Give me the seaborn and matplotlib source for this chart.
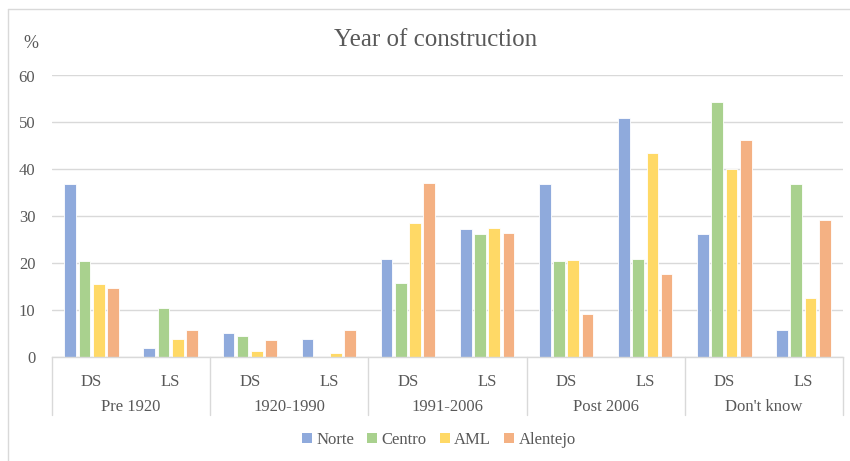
import matplotlib
matplotlib.use("Agg")
import matplotlib.pyplot as plt
import matplotlib.transforms as mtransforms
from matplotlib.lines import Line2D
from matplotlib.patches import Patch
import seaborn as sns
import pandas as pd

sns.set_theme(style="white")
plt.rcParams['font.family'] = ['Liberation Serif', 'DejaVu Serif']

groups = ["Pre 1920", "1920-1990", "1991-2006", "Post 2006", "Don't know"]
subcats = ["DS", "LS"]
regions = ["Norte", "Centro", "AML", "Alentejo"]
colors = ["#8faadc", "#a9d18e", "#ffd966", "#f4b183"]

# values per (group, subcat) in order of regions
norte    = [36.8, 1.9, 5.2, 3.8, 20.9, 27.3, 36.8, 50.9, 26.2, 5.8]
centro   = [20.4, 10.4, 4.5, 0.0, 15.8, 26.3, 20.4, 20.9, 54.4, 36.8]
aml      = [15.5, 3.8, 1.3, 0.9, 28.5, 27.5, 20.7, 43.4, 40.0, 12.6]
alentejo = [14.8, 5.8, 3.6, 5.8, 37.0, 26.4, 9.2, 17.6, 46.2, 29.3]

slots = [f"{g}|{s}" for g in groups for s in subcats]
rows = []
for name, vals in zip(regions, [norte, centro, aml, alentejo]):
    for slot, v in zip(slots, vals):
        rows.append({"slot": slot, "region": name, "value": v})
df = pd.DataFrame(rows)

fig = plt.figure(figsize=(8.5, 4.61), dpi=100)
ax = fig.add_axes([52/850, 1-357/461, (843-52)/850, (357-75.5)/461])

sns.barplot(data=df, x="slot", y="value", hue="region", order=slots,
            hue_order=regions, palette=colors, width=0.72, gap=0.18,
            edgecolor="white", linewidth=0.6, saturation=1, ax=ax, legend=False)

txt = "#595959"
fs = 12
ax.set_ylim(0, 60)
ax.set_xlim(-0.5, len(slots) - 0.5)
ax.set_yticks(range(0, 61, 10))
ax.yaxis.grid(True, color="#d9d9d9", linewidth=1)
ax.set_axisbelow(True)
for s in ["left", "right", "top"]:
    ax.spines[s].set_visible(False)
ax.spines["bottom"].set_color("#d9d9d9")
ax.spines["bottom"].set_linewidth(1)
ax.set_xlabel("")
ax.set_ylabel("")
ax.tick_params(axis="y", length=0, labelsize=fs, labelcolor=txt, pad=12)
ax.set_xticks(range(len(slots)))
ax.set_xticklabels([s.split("|")[1] for s in slots])
ax.tick_params(axis="x", length=0, labelsize=fs, labelcolor=txt, pad=12)

# group labels and separators
trans = mtransforms.blended_transform_factory(ax.transData, fig.transFigure)
for i, g in enumerate(groups):
    ax.text(2*i + 0.5, 1-407/461, g, transform=trans, ha="center", va="center",
            fontsize=fs, color=txt)
for k in range(len(groups) + 1):
    xpos = 2*k - 0.5
    ax.add_line(Line2D([xpos, xpos], [1-357/461, 1-415/461], transform=trans,
                       color="#d9d9d9", linewidth=1, clip_on=False))

fig.text(436/850, 1-40/461, "Year of construction", ha="center", va="center",
         fontsize=18, color=txt)
fig.text(31/850, 1-43/461, "%", ha="center", va="center", fontsize=13, color=txt)

handles = [Patch(facecolor=c, edgecolor="none") for c in colors]
fig.legend(handles, regions, loc="center", bbox_to_anchor=(439/850, 1-440/461),
           ncol=4, frameon=False, fontsize=fs, handlelength=0.6, handleheight=0.6,
           handletextpad=0.25, columnspacing=0.8, labelcolor=txt)

# chart frame (partially visible)
fig.add_artist(Line2D([8/850, 8/850], [0, 1-9.5/461], transform=fig.transFigure,
                      color="#d9d9d9", linewidth=1))
fig.add_artist(Line2D([8/850, 1], [1-9.5/461, 1-9.5/461], transform=fig.transFigure,
                      color="#d9d9d9", linewidth=1))

fig.savefig("out.png", dpi=100)
